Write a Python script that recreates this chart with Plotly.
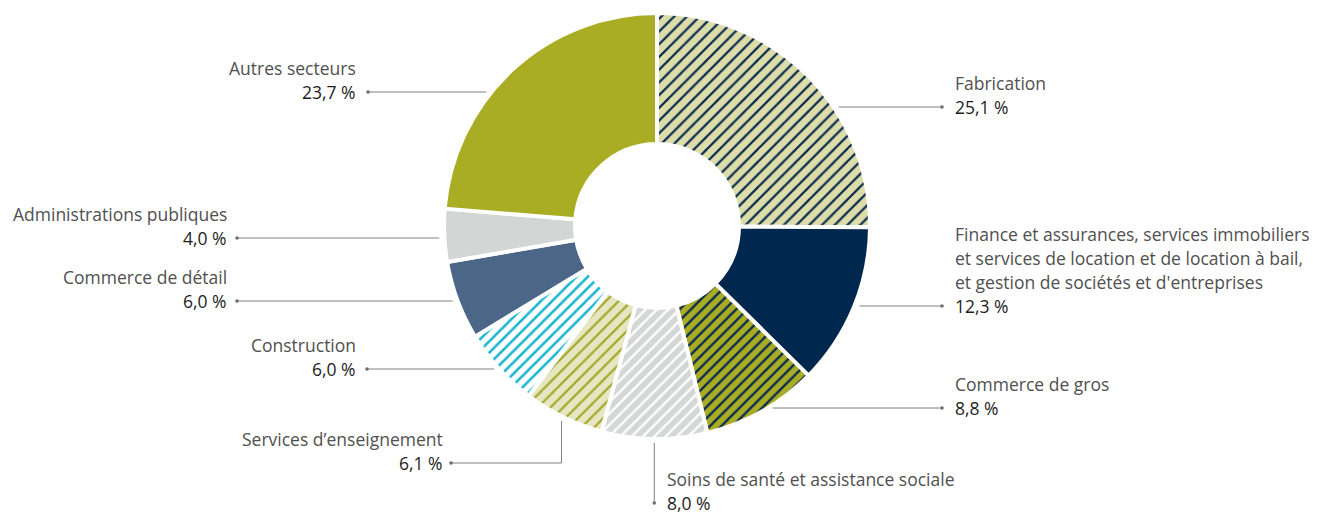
import math
import plotly.graph_objects as go

# ---------------- data ----------------
categories = [
    "Fabrication",
    "Finance et assurances, services immobiliers et services de location et de location à bail, et gestion de sociétés et d'entreprises",
    "Commerce de gros",
    "Soins de santé et assistance sociale",
    "Services d’enseignement",
    "Construction",
    "Commerce de détail",
    "Administrations publiques",
    "Autres secteurs",
]
values = [25.1, 12.3, 8.8, 8.0, 6.1, 6.0, 6.0, 4.0, 23.7]
value_labels = ["25,1 %", "12,3 %", "8,8 %", "8,0 %", "6,1 %", "6,0 %", "6,0 %", "4,0 %", "23,7 %"]
label_lines = [
    ["Fabrication"],
    ["Finance et assurances, services immobiliers",
     "et services de location et de location à bail,",
     "et gestion de sociétés et d'entreprises"],
    ["Commerce de gros"],
    ["Soins de santé et assistance sociale"],
    ["Services d’enseignement"],
    ["Construction"],
    ["Commerce de détail"],
    ["Administrations publiques"],
    ["Autres secteurs"],
]

# ---------------- styles ----------------
bg_colors = ["#dcdda9", "#00284f", "#a8ad24", "#d5d6d6", "#e6e7c2",
             "#ffffff", "#4b6686", "#d4d5d5", "#a9ad24"]
fg_colors = ["#0b2a4f", None, "#0b2a4f", "#ffffff", "#a3a82a",
             "#1bb6cf", None, None, None]
shapes_pat = ["/", "", "/", "/", "/", "/", "", "", ""]
pat_size = [9, 8, 8, 8, 9, 8, 8, 8, 8]
pat_solid = [0.25, 0.3, 0.3, 0.3, 0.25, 0.32, 0.3, 0.3, 0.3]

OFF = 8                      # page body margin
W, H = 1319 - OFF, 514 - OFF
CX, CY, R = 657, 226, 213    # target window pixel geometry
HOLE = 0.385

def px(x):
    return (x - OFF) / W

def py(y):
    return 1 - (y - OFF) / H

fig = go.Figure()
fig.add_trace(go.Pie(
    labels=categories,
    values=values,
    sort=False,
    direction="clockwise",
    rotation=0,
    hole=HOLE,
    textinfo="none",
    hoverinfo="label+percent",
    domain=dict(x=[px(CX - R), px(CX + R)], y=[py(CY + R), py(CY - R)]),
    marker=dict(
        colors=bg_colors,
        line=dict(color="white", width=4),
        pattern=dict(
            shape=shapes_pat,
            fgcolor=[c if c else "#000000" for c in fg_colors],
            bgcolor=bg_colors,
            size=pat_size,
            solidity=pat_solid,
            fillmode="replace",
        ),
    ),
    showlegend=False,
))

# ---------------- labels & leader lines ----------------
placement = [
    ("right", 107, 942, 953),
    ("right", 306, 942, 953),
    ("right", 408, 942, 953),
    ("down", 503, None, 665),
    ("elbow-left", 463, 451, 445),
    ("left", 369, 367, 358),
    ("left", 301, 237, 229),
    ("left", 238, 237, 229),
    ("left", 92, 368, 358),
]

LINE_COLOR = "#808080"
DOT_COLOR = "#6e6e6e"
NAME_COLOR = "#505050"
VALUE_COLOR = "#1e1e1e"
FONT = "Open Sans"
FS = 17.5
LH = 24

shapes = []
annotations = []
total = sum(values)
cum = 0.0
for i, v in enumerate(values):
    mid = (cum + v / 2) / total
    cum += v
    ang = 2 * math.pi * mid
    mx = CX + (R + 4) * math.sin(ang)
    my = CY - (R + 4) * math.cos(ang)
    kind, ly, dotx, tx = placement[i]
    if kind in ("right", "left"):
        dx = math.sqrt(max(R * R - (ly - CY) ** 2, 0))
        x0 = CX + dx + 5 if kind == "right" else CX - dx - 5
        seg = [(x0, ly, dotx, ly)]
        dot = (dotx, ly)
        xanchor = "right" if kind == "left" else "left"
    elif kind == "elbow-left":
        seg = [(mx, my, mx, ly), (mx, ly, dotx, ly)]
        dot = (dotx, ly)
        xanchor = "right"
    else:  # down
        seg = [(mx, my, mx, ly)]
        dot = (mx, ly)
        xanchor = "left"
    for (a, b, c, d) in seg:
        shapes.append(dict(type="line", xref="paper", yref="paper",
                           x0=px(a), y0=py(b), x1=px(c), y1=py(d),
                           line=dict(color=LINE_COLOR, width=1)))
    shapes.append(dict(type="circle", xref="paper", yref="paper",
                       x0=px(dot[0] - 1.8), x1=px(dot[0] + 1.8),
                       y0=py(dot[1] + 1.8), y1=py(dot[1] - 1.8),
                       fillcolor=DOT_COLOR, line=dict(width=0)))
    lines = label_lines[i]
    n = len(lines)
    for k, t in enumerate(lines):
        yy = ly - (n - k) * LH
        annotations.append(dict(text=t, x=px(tx), y=py(yy), xref="paper", yref="paper",
                                xanchor=xanchor, yanchor="middle", showarrow=False,
                                font=dict(family=FONT, size=FS, color=NAME_COLOR)))
    annotations.append(dict(text=value_labels[i], x=px(tx), y=py(ly), xref="paper", yref="paper",
                            xanchor=xanchor, yanchor="middle", showarrow=False,
                            font=dict(family=FONT, size=FS, color=VALUE_COLOR)))

fig.update_layout(
    width=W, height=H,
    margin=dict(l=0, r=0, t=0, b=0),
    paper_bgcolor="white",
    plot_bgcolor="white",
    shapes=shapes,
    annotations=annotations,
)

fig.write_html("out.html")
